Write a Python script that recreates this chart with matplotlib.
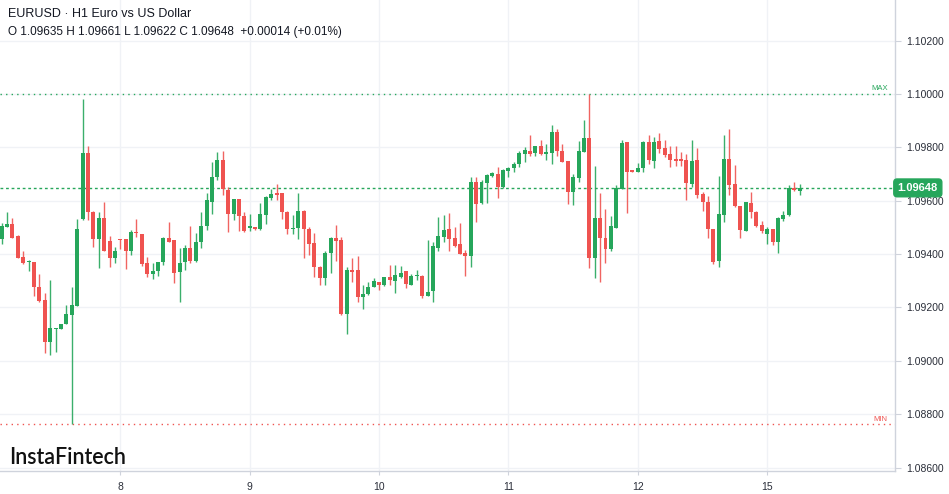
import matplotlib
matplotlib.use('Agg')
import matplotlib.pyplot as plt
import numpy as np

# ---------------- data ----------------
opens = [1.09456, 1.09503, 1.09511, 1.09467, 1.09390, 1.09371, 1.09369, 1.09275, 1.09228, 1.09071,
         1.09120, 1.09121, 1.09138, 1.09171, 1.09206, 1.09530, 1.09779, 1.09559, 1.09456, 1.09537,
         1.09449, 1.09387, 1.09456, 1.09456, 1.09413, 1.09484, 1.09475, 1.09365, 1.09325, 1.09336,
         1.09369, 1.09459, 1.09453, 1.09333, 1.09371, 1.09421, 1.09375, 1.09444, 1.09505, 1.09596,
         1.09688, 1.09753, 1.09640, 1.09552, 1.09606, 1.09542, 1.09499, 1.09500, 1.09494, 1.09546,
         1.09609, 1.09627, 1.09627, 1.09559, 1.09494, 1.09496, 1.09563, 1.09494, 1.09442, 1.09353,
         1.09309, 1.09403, 1.09459, 1.09453, 1.09174, 1.09340, 1.09340, 1.09238, 1.09249, 1.09276,
         1.09296, 1.09284, 1.09313, 1.09300, 1.09315, 1.09336, 1.09286, 1.09318, 1.09319, 1.09244,
         1.09263, 1.09424, 1.09465, 1.09493, 1.09459, 1.09438, 1.09405, 1.09393, 1.09670, 1.09590,
         1.09665, 1.09694, 1.09700, 1.09650, 1.09713, 1.09724, 1.09739, 1.09774, 1.09786, 1.09778,
         1.09803, 1.09775, 1.09778, 1.09856, 1.09787, 1.09749, 1.09634, 1.09686, 1.09784, 1.09836,
         1.09386, 1.09537, 1.09461, 1.09418, 1.09499, 1.09644, 1.09819, 1.09715, 1.09709, 1.09724,
         1.09821, 1.09750, 1.09824, 1.09796, 1.09774, 1.09756, 1.09755, 1.09753, 1.09663, 1.09751,
         1.09624, 1.09596, 1.09494, 1.09375, 1.09546, 1.09755, 1.09661, 1.09580, 1.09487, 1.09593,
         1.09559, 1.09509, 1.09475, 1.09494, 1.09446, 1.09530, 1.09546, 1.09649, 1.09635]
highs = [1.09515, 1.09559, 1.09534, 1.09470, 1.09411, 1.09378, 1.09370, 1.09325, 1.09256, 1.09303,
         1.09125, 1.09139, 1.09209, 1.09278, 1.09531, 1.09981, 1.09803, 1.09560, 1.09559, 1.09596,
         1.09467, 1.09425, 1.09457, 1.09457, 1.09490, 1.09530, 1.09476, 1.09390, 1.09368, 1.09370,
         1.09465, 1.09521, 1.09454, 1.09421, 1.09434, 1.09505, 1.09478, 1.09559, 1.09627, 1.09744,
         1.09784, 1.09786, 1.09653, 1.09607, 1.09607, 1.09559, 1.09549, 1.09501, 1.09590, 1.09616,
         1.09644, 1.09663, 1.09628, 1.09560, 1.09546, 1.09627, 1.09564, 1.09503, 1.09478, 1.09354,
         1.09413, 1.09465, 1.09509, 1.09465, 1.09350, 1.09387, 1.09394, 1.09284, 1.09296, 1.09309,
         1.09297, 1.09316, 1.09361, 1.09359, 1.09356, 1.09337, 1.09324, 1.09340, 1.09320, 1.09453,
         1.09444, 1.09540, 1.09546, 1.09555, 1.09503, 1.09517, 1.09415, 1.09688, 1.09688, 1.09677,
         1.09699, 1.09706, 1.09727, 1.09719, 1.09727, 1.09746, 1.09786, 1.09800, 1.09846, 1.09806,
         1.09828, 1.09813, 1.09884, 1.09869, 1.09813, 1.09750, 1.09699, 1.09824, 1.09903, 1.10000,
         1.09730, 1.09627, 1.09569, 1.09542, 1.09659, 1.09828, 1.09821, 1.09716, 1.09740, 1.09824,
         1.09846, 1.09838, 1.09853, 1.09828, 1.09803, 1.09803, 1.09784, 1.09774, 1.09828, 1.09796,
         1.09634, 1.09617, 1.09495, 1.09693, 1.09846, 1.09869, 1.09734, 1.09581, 1.09595, 1.09634,
         1.09560, 1.09525, 1.09503, 1.09495, 1.09540, 1.09561, 1.09659, 1.09671, 1.09661]
lows = [1.09438, 1.09500, 1.09459, 1.09384, 1.09363, 1.09338, 1.09244, 1.09221, 1.09028, 1.09021,
        1.09034, 1.09120, 1.09137, 1.08763, 1.09205, 1.09528, 1.09527, 1.09425, 1.09349, 1.09412,
        1.09350, 1.09365, 1.09419, 1.09344, 1.09396, 1.09465, 1.09356, 1.09313, 1.09305, 1.09318,
        1.09359, 1.09445, 1.09290, 1.09219, 1.09340, 1.09365, 1.09369, 1.09421, 1.09490, 1.09552,
        1.09677, 1.09621, 1.09484, 1.09527, 1.09487, 1.09484, 1.09487, 1.09492, 1.09490, 1.09511,
        1.09602, 1.09602, 1.09530, 1.09475, 1.09475, 1.09456, 1.09384, 1.09396, 1.09315, 1.09284,
        1.09284, 1.09328, 1.09375, 1.09173, 1.09099, 1.09296, 1.09219, 1.09196, 1.09246, 1.09275,
        1.09265, 1.09281, 1.09284, 1.09256, 1.09309, 1.09274, 1.09284, 1.09303, 1.09234, 1.09243,
        1.09221, 1.09413, 1.09446, 1.09413, 1.09427, 1.09399, 1.09318, 1.09353, 1.09521, 1.09588,
        1.09590, 1.09690, 1.09609, 1.09649, 1.09690, 1.09706, 1.09727, 1.09746, 1.09769, 1.09769,
        1.09771, 1.09753, 1.09738, 1.09769, 1.09744, 1.09586, 1.09584, 1.09671, 1.09783, 1.09349,
        1.09311, 1.09296, 1.09365, 1.09413, 1.09496, 1.09643, 1.09555, 1.09706, 1.09706, 1.09706,
        1.09738, 1.09721, 1.09778, 1.09763, 1.09728, 1.09731, 1.09731, 1.09602, 1.09653, 1.09609,
        1.09561, 1.09461, 1.09363, 1.09353, 1.09521, 1.09621, 1.09575, 1.09462, 1.09486, 1.09534,
        1.09503, 1.09478, 1.09438, 1.09434, 1.09403, 1.09525, 1.09544, 1.09638, 1.09622]
closes = [1.09505, 1.09511, 1.09462, 1.09387, 1.09365, 1.09375, 1.09275, 1.09225, 1.09071, 1.09124,
          1.09124, 1.09138, 1.09175, 1.09209, 1.09493, 1.09779, 1.09559, 1.09456, 1.09537, 1.09413,
          1.09387, 1.09413, 1.09453, 1.09413, 1.09484, 1.09478, 1.09363, 1.09325, 1.09336, 1.09369,
          1.09459, 1.09446, 1.09330, 1.09368, 1.09421, 1.09375, 1.09446, 1.09505, 1.09602, 1.09688,
          1.09753, 1.09643, 1.09552, 1.09606, 1.09542, 1.09487, 1.09505, 1.09494, 1.09550, 1.09615,
          1.09625, 1.09621, 1.09559, 1.09494, 1.09499, 1.09563, 1.09494, 1.09436, 1.09353, 1.09311,
          1.09403, 1.09459, 1.09450, 1.09174, 1.09340, 1.09334, 1.09238, 1.09249, 1.09278, 1.09299,
          1.09286, 1.09315, 1.09303, 1.09321, 1.09331, 1.09288, 1.09318, 1.09321, 1.09244, 1.09259,
          1.09431, 1.09467, 1.09489, 1.09456, 1.09429, 1.09400, 1.09392, 1.09670, 1.09586, 1.09670,
          1.09696, 1.09702, 1.09650, 1.09715, 1.09724, 1.09739, 1.09780, 1.09790, 1.09775, 1.09803,
          1.09774, 1.09781, 1.09856, 1.09787, 1.09746, 1.09634, 1.09688, 1.09786, 1.09836, 1.09384,
          1.09537, 1.09459, 1.09419, 1.09505, 1.09646, 1.09815, 1.09709, 1.09709, 1.09724, 1.09821,
          1.09753, 1.09821, 1.09794, 1.09771, 1.09753, 1.09749, 1.09749, 1.09665, 1.09749, 1.09621,
          1.09594, 1.09494, 1.09371, 1.09549, 1.09755, 1.09659, 1.09580, 1.09490, 1.09594, 1.09556,
          1.09506, 1.09486, 1.09494, 1.09446, 1.09534, 1.09546, 1.09649, 1.09640, 1.09648]

day_positions = [22, 46, 70, 94, 118, 142]
day_labels = ['8', '9', '10', '11', '12', '15']
price_ticks = [1.086, 1.088, 1.090, 1.092, 1.094, 1.096, 1.098, 1.100, 1.102]
last_price = 1.09648
title_text = 'EURUSD · H1 Euro vs US Dollar'
ohlc_text = 'O 1.09635 H 1.09661 L 1.09622 C 1.09648  +0.00014 (+0.01%)'
logo_text = 'InstaFintech'

# ---------------- styling ----------------
UP = '#26a65b'
DOWN = '#ef5350'
GRID = '#f0f2f6'
AXIS = '#cfd3dc'
TEXT = '#131722'
plt.rcParams['font.family'] = ['Liberation Sans', 'DejaVu Sans']

W, H = 949, 494
fig = plt.figure(figsize=(W / 100, H / 100), dpi=100)
fig.patch.set_facecolor('white')
ax = fig.add_axes([0, 23 / H, 895 / W, 471 / H])

o = np.array(opens); h = np.array(highs); l = np.array(lows); c = np.array(closes)
x = np.arange(len(o))
colors = np.where(c >= o, UP, DOWN)

ax.vlines(x, l, h, colors=colors, linewidth=1, alpha=0.9, zorder=3)
bottoms = np.minimum(o, c)
heights = np.maximum(np.abs(c - o), 0.00004)
ax.bar(x, heights, bottom=bottoms, width=0.74, color=colors, linewidth=0, zorder=4)

ax.set_xlim(-0.315, 165.7)
ax.set_ylim(1.085876, 1.103517)

ax.set_xticks(day_positions)
ax.set_xticklabels(day_labels)
ax.set_yticks(price_ticks)
ax.set_yticklabels([f'{p:.5f}' for p in price_ticks])
ax.yaxis.tick_right()
ax.grid(True, color=GRID, linewidth=1, zorder=0)
ax.set_axisbelow(True)

for side in ('left', 'top'):
    ax.spines[side].set_visible(False)
for side in ('right', 'bottom'):
    ax.spines[side].set_color(AXIS)
    ax.spines[side].set_linewidth(1)

ax.tick_params(axis='y', length=4, color=AXIS, labelsize=7.5, labelcolor='#2a2e39', pad=4)
ax.tick_params(axis='x', length=3, color=AXIS, labelsize=7.5, labelcolor='#2a2e39', pad=5)

# max / min / last price lines
pmax = max(highs)
pmin = min(lows)
ax.axhline(pmax, color=UP, linestyle=(0, (1, 3)), linewidth=1, zorder=2)
ax.axhline(pmin, color=DOWN, linestyle=(0, (1, 3)), linewidth=1, zorder=2)
ax.axhline(last_price, color=UP, linestyle=(0, (2, 2)), linewidth=1, zorder=2)
ax.text(0.992, pmax + 0.00006, 'MAX', transform=ax.get_yaxis_transform(), ha='right', va='bottom',
        fontsize=5.5, color=UP)
ax.text(0.992, pmin + 0.00006, 'MIN', transform=ax.get_yaxis_transform(), ha='right', va='bottom',
        fontsize=5.5, color=DOWN)

# last price label on the axis
ax.text(1.003, last_price, f'{last_price:.5f}', transform=ax.get_yaxis_transform(),
        ha='left', va='center', fontsize=8, fontweight='bold', color='white', zorder=10,
        bbox=dict(boxstyle='round,pad=0.35,rounding_size=0.3', fc=UP, ec=UP), clip_on=False)

# header
fig.text(8 / W, 1 - 14 / H, title_text, fontsize=9, color=TEXT, va='center', ha='left')
fig.text(8 / W, 1 - 32 / H, ohlc_text, fontsize=8.5, color=TEXT, va='center', ha='left')

# logo
fig.text(9 / W, 1 - 457 / H, logo_text, fontsize=15.5, color='#111111', va='center', ha='left',
         family=['Lato', 'DejaVu Sans'], fontweight='semibold')

fig.savefig('out.png', dpi=100, facecolor='white')
